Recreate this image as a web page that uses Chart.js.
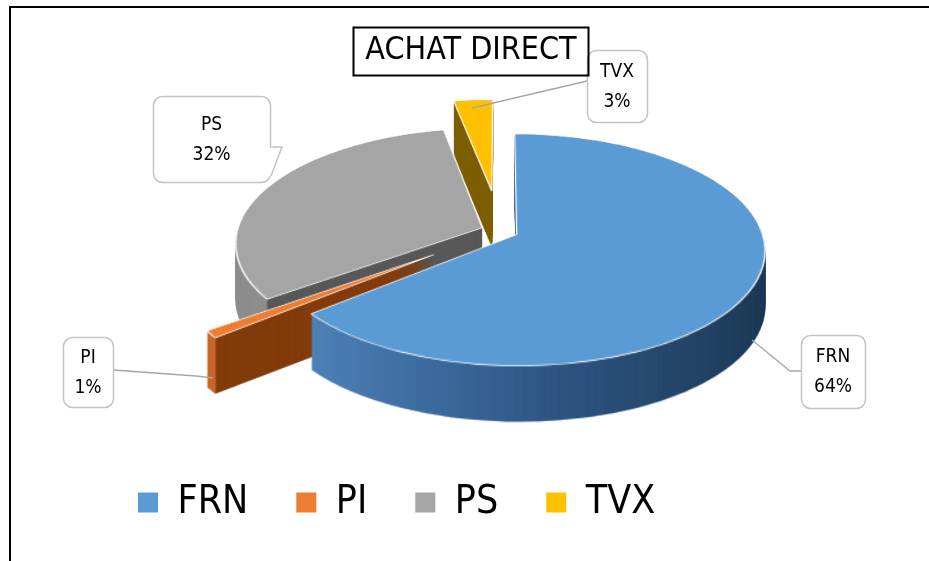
<!DOCTYPE html>
<html><head><meta charset="utf-8">
<script src="https://cdn.jsdelivr.net/npm/chart.js@4.4.0/dist/chart.umd.min.js"></script>
<style>
html,body{margin:0;padding:0;background:#fff;overflow:hidden}
#wrap{position:relative;width:929px;height:561px}
#frame{position:absolute;left:9px;top:6px;width:960px;height:600px;border-top:2px solid #000;border-left:2px solid #000;pointer-events:none}
canvas{position:absolute;left:0;top:0}
</style></head><body>
<div id="wrap"><canvas id="c" width="929" height="561"></canvas><div id="frame"></div></div>
<script>
// ---- data ----
const categories = ['FRN', 'PI', 'PS', 'TVX'];
const shares = [64, 1, 32, 3];
const titleText = 'ACHAT DIRECT';

// ---- styles ----
const FONT = "'Liberation Sans Narrow','DejaVu Sans Condensed','Arial Narrow',sans-serif";
const topColors = ['#5B9BD5', '#ED7D31', '#A5A5A5', '#FFC000'];
const explode = [19, 85, 20, 95];
// flat ellipse + simple perspective (persp = distance in px) + extrusion depth
const VIEW = {cx: 500, cy: 231, rx: 245, ry: 113, depth: 56, persp: 866};
const DRAW_ORDER = [3, 2, 1, 0];
const SIDE = [
  {kind: 'gradient', stops: [[320, '#4f84bb'], [540, '#2f5785'], [760, '#1e3954']]},
  {kind: 'split', left: '#c8662a', right: '#843C0C'},
  {kind: 'split', left: '#8e8e8e', right: '#595959'},
  {kind: 'solid', color: '#7F6000'}
];
const CALLOUTS = [
  {box: [801, 335, 64, 73], leader: [[752, 340], [790, 371], [801, 371]]},
  {box: [63, 337, 50, 70], leader: [[113, 370], [196, 376], [213, 378]]},
  {box: [153, 96, 117, 86], pointer: [[270, 147], [282, 147], [271, 176]]},
  {box: [587, 50, 60, 72], leader: [[587, 81], [472, 108]]}
];

function rr(ctx, x, y, w, h, r) {
  ctx.beginPath();
  ctx.moveTo(x + r, y);
  ctx.lineTo(x + w - r, y); ctx.arcTo(x + w, y, x + w, y + r, r);
  ctx.lineTo(x + w, y + h - r); ctx.arcTo(x + w, y + h, x + w - r, y + h, r);
  ctx.lineTo(x + r, y + h); ctx.arcTo(x, y + h, x, y + h - r, r);
  ctx.lineTo(x, y + r); ctx.arcTo(x, y, x + r, y, r);
  ctx.closePath();
}
function makeCanvas(w, h) { const c = document.createElement('canvas'); c.width = w; c.height = h; return c; }

const pie3d = {
  id: 'pie3d',
  beforeDatasetsDraw(chart) {
    const ctx = chart.ctx;
    const W = chart.width, H = chart.height;
    const P = VIEW.persp;
    const flat = makeCanvas(W, H), fctx = flat.getContext('2d');
    const wTop = makeCanvas(W, H), wSide = makeCanvas(W, H);
    const warp = (dst) => {
      const d = dst.getContext('2d');
      d.clearRect(0, 0, W, H);
      d.imageSmoothingEnabled = true;
      for (let y = 0; y < H; y++) {
        const s0 = y - VIEW.cy, s1 = s0 + 1, sm = s0 + 0.5;
        const t0 = s0 * P / (P + s0), t1 = s1 * P / (P + s1);
        const sy0 = VIEW.cy + t0, sh = t1 - t0;
        if (sy0 < 0 || sy0 + sh > H) continue;
        const w = 1 + sm / P;
        d.drawImage(flat, 0, sy0, W, sh, VIEW.cx - VIEW.cx * w, y, W * w, 1);
      }
    };
    const els = chart.getDatasetMeta(0).data;
    for (const i of DRAW_ORDER) {
      const el = els[i];
      const o = el.options;
      const R = el.outerRadius;
      const sx = VIEW.rx / R, sy = VIEW.ry / R;
      const half = (el.startAngle + el.endAngle) / 2;
      const off = o.offset || 0;
      const tx = Math.cos(half) * off, ty = Math.sin(half) * off;
      const toLocal = X => el.x - tx + (X - VIEW.cx) / sx;
      const st = SIDE[i];
      let fill;
      if (st.kind === 'solid') fill = st.color;
      else if (st.kind === 'split') {
        const B = VIEW.cx + sx * (tx + Math.cos(el.startAngle) * R);
        fill = fctx.createLinearGradient(toLocal(B - 1), 0, toLocal(B + 1), 0);
        fill.addColorStop(0, st.left); fill.addColorStop(1, st.right);
      } else {
        const x0 = st.stops[0][0], x1 = st.stops[st.stops.length - 1][0];
        fill = fctx.createLinearGradient(toLocal(x0), 0, toLocal(x1), 0);
        st.stops.forEach(([x, c]) => fill.addColorStop((x - x0) / (x1 - x0), c));
      }
      const sideOpts = Object.assign({}, o, {offset: 0, backgroundColor: fill, borderWidth: 0});
      const topOpts = Object.assign({}, o, {offset: 0});
      const drawFlat = (opts) => {
        fctx.clearRect(0, 0, W, H);
        fctx.save();
        fctx.translate(VIEW.cx, VIEW.cy);
        fctx.scale(sx, sy);
        fctx.translate(-el.x + tx, -el.y + ty);
        el.options = opts;
        el.draw(fctx);
        el.options = o;
        fctx.restore();
      };
      drawFlat(sideOpts); warp(wSide);
      drawFlat(topOpts); warp(wTop);
      for (let d = VIEW.depth; d >= 1; d--) ctx.drawImage(wSide, 0, d);
      ctx.drawImage(wTop, 0, 0);
    }
    return false;
  }
};

const annotations = {
  id: 'annotations',
  afterDraw(chart) {
    const ctx = chart.ctx;
    const total = shares.reduce((a, b) => a + b, 0);
    ctx.save();
    CALLOUTS.forEach((c, i) => {
      ctx.lineWidth = 1.3;
      ctx.strokeStyle = '#a6a6a6';
      if (c.leader) {
        ctx.beginPath();
        c.leader.forEach(([x, y], k) => k ? ctx.lineTo(x, y) : ctx.moveTo(x, y));
        ctx.stroke();
      }
      const [bx, by, bw, bh] = c.box;
      rr(ctx, bx + 0.5, by + 0.5, bw, bh, 9);
      ctx.fillStyle = '#fff'; ctx.fill();
      ctx.strokeStyle = '#c4c4c4'; ctx.lineWidth = 1.5; ctx.stroke();
      if (c.pointer) {
        const p = c.pointer;
        ctx.beginPath();
        ctx.moveTo(p[0][0] - 2, p[0][1]); ctx.lineTo(p[1][0], p[1][1]); ctx.lineTo(p[2][0], p[2][1]); ctx.lineTo(p[2][0] - 3, p[2][1]);
        ctx.closePath(); ctx.fillStyle = '#fff'; ctx.fill();
        ctx.beginPath();
        ctx.moveTo(p[0][0], p[0][1]); ctx.lineTo(p[1][0], p[1][1]); ctx.lineTo(p[2][0], p[2][1]);
        ctx.stroke();
      }
      ctx.fillStyle = '#000';
      ctx.font = '19px ' + FONT;
      ctx.textAlign = 'center';
      ctx.textBaseline = 'middle';
      const mx = bx + bw / 2, my = by + bh / 2;
      ctx.fillText(categories[i], mx, my - 14);
      ctx.fillText(Math.round(shares[i] / total * 100) + '%', mx, my + 16);
    });
    // title frame
    const tb = chart.titleBlock;
    ctx.font = '32px ' + FONT;
    const w = ctx.measureText(titleText).width;
    const tcx = (tb.left + tb.right) / 2;
    ctx.strokeStyle = '#000'; ctx.lineWidth = 2;
    ctx.strokeRect(Math.round(tcx - w / 2 - 12) + 0.5, 27.5, Math.round(w + 24), 48);
    ctx.restore();
  }
};

new Chart(document.getElementById('c'), {
  type: 'pie',
  data: {
    labels: categories,
    datasets: [{
      data: shares,
      backgroundColor: topColors,
      borderColor: '#ffffff',
      borderWidth: 1.5,
      offset: explode,
      radius: 255
    }]
  },
  options: {
    responsive: false,
    animation: false,
    events: [],
    layout: {padding: {left: 90, right: 77, top: 0, bottom: 29}},
    plugins: {
      tooltip: {enabled: false},
      title: {
        display: true, text: titleText, color: '#000',
        font: {family: FONT, size: 32, weight: 'normal', lineHeight: 48 / 32},
        padding: {top: 27, bottom: 10}
      },
      legend: {
        display: true, position: 'bottom', align: 'start',
        labels: {
          color: '#000', boxWidth: 20, boxHeight: 20, padding: 48,
          font: {family: FONT, size: 39},
          generateLabels: () => categories.map((t, i) => ({
            text: t, fillStyle: topColors[i], strokeStyle: topColors[i], lineWidth: 0,
            hidden: false, index: i, fontColor: '#000'
          }))
        }
      }
    }
  },
  plugins: [pie3d, annotations]
});
</script>
</body></html>
